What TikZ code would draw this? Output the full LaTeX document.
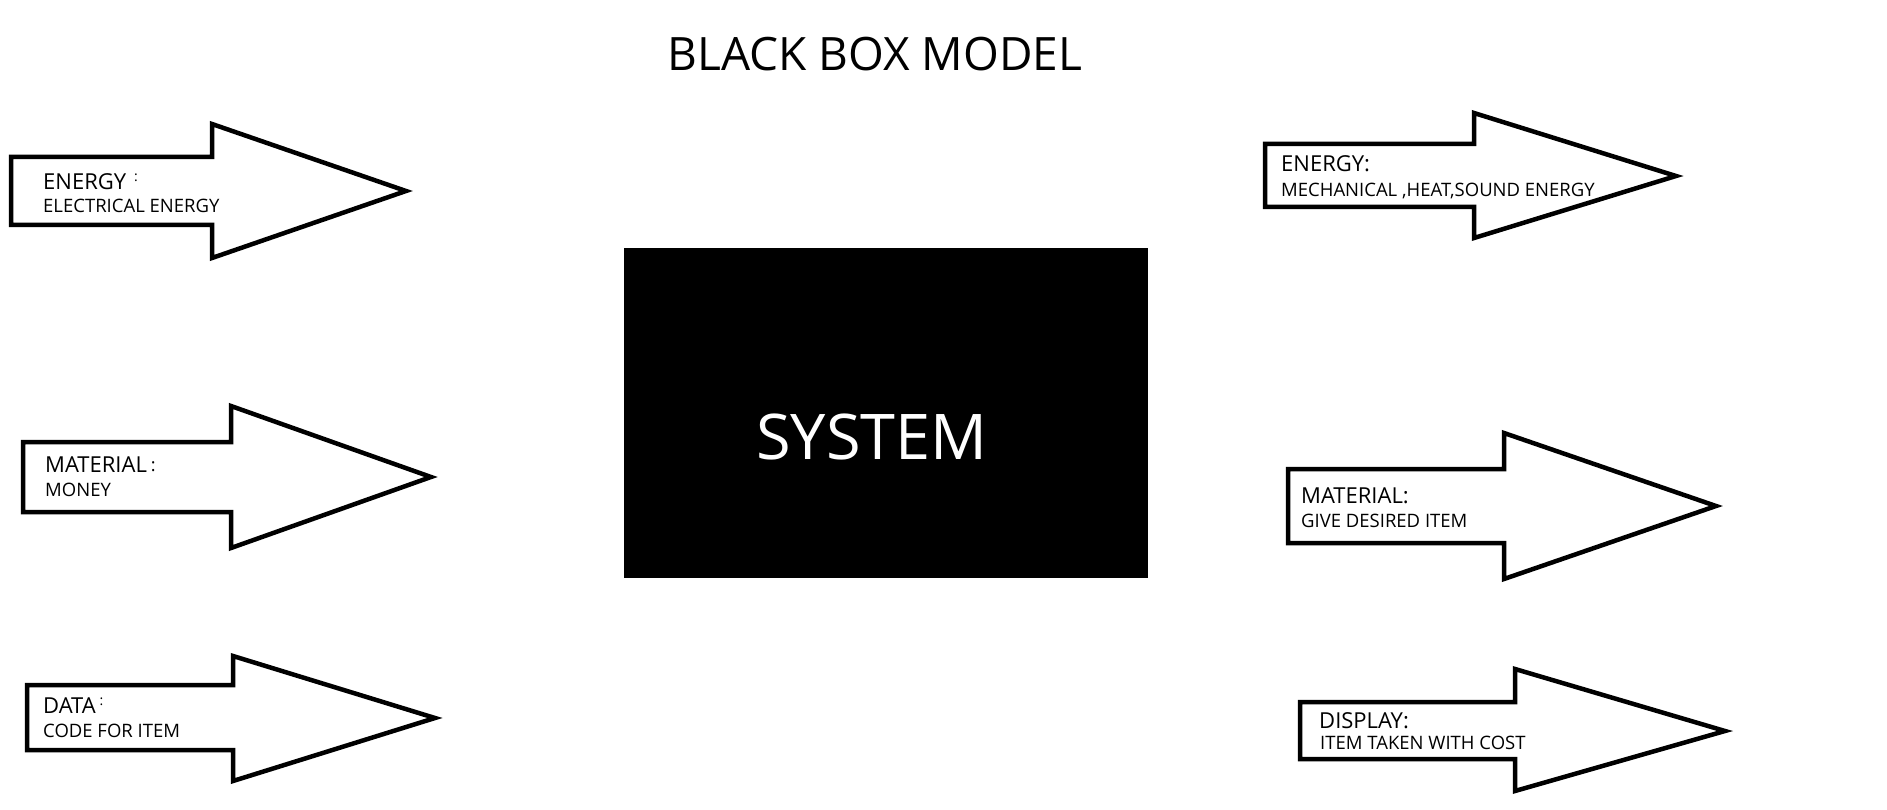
\documentclass[tikz,border=0pt]{standalone}
\usepackage{fontspec}
\setmainfont{Open Sans}
\begin{document}
\begin{tikzpicture}[x=1pt,y=-1pt,
  bigarrow/.style={draw=black,line width=4.5pt,line join=miter,fill=white},
  head/.style={anchor=base west,inner sep=0pt,font=\fontsize{22}{24}\selectfont},
  sub/.style={anchor=base west,inner sep=0pt,font=\fontsize{18.5}{20}\selectfont},
]
\path[use as bounding box,fill=white] (0,0) rectangle (1887,810);

% title
\node[anchor=base,inner sep=0pt,font=\fontsize{46}{50}\selectfont] (title) at (875,71) {BLACK BOX MODEL};

% black box
\node[fill=black,minimum width=524pt,minimum height=330pt,inner sep=0pt,anchor=north west] (box) at (624,248) {};
\node[anchor=base,inner sep=0pt,text=white,font=\fontsize{63}{66}\selectfont] (system) at (872,459) {SYSTEM};

% left arrows
\draw[bigarrow] (11,157) -- (212,157) -- (212,124) -- (406,191) -- (212,258) -- (212,225) -- (11,225) -- cycle;
\draw[bigarrow] (23,442) -- (231,442) -- (231,406) -- (431,477) -- (231,548) -- (231,512) -- (23,512) -- cycle;
\draw[bigarrow] (27,685) -- (233,685) -- (233,656) -- (435,718) -- (233,781) -- (233,750) -- (27,750) -- cycle;

% right arrows
\draw[bigarrow] (1265,144) -- (1474,144) -- (1474,113) -- (1676,176) -- (1474,238) -- (1474,207) -- (1265,207) -- cycle;
\draw[bigarrow] (1288,469) -- (1504,469) -- (1504,433) -- (1716,506) -- (1504,579) -- (1504,543) -- (1288,543) -- cycle;
\draw[bigarrow] (1300,702) -- (1515,702) -- (1515,669) -- (1725,731) -- (1515,791) -- (1515,759) -- (1300,759) -- cycle;

% left texts
\node[head] (l1h) at (43,190) {ENERGY\hspace{8pt}\raisebox{8pt}{\fontsize{14}{14}\selectfont :}};
\node[sub] (l1s) at (43,213) {ELECTRICAL ENERGY};
\node[head] (l2h) at (45,472) {MATERIAL\hspace{4pt}\raisebox{1pt}{\fontsize{18}{18}\selectfont :}};
\node[sub] (l2s) at (45,496) {MONEY};
\node[head] (l3h) at (43,713) {DATA\hspace{4pt}\raisebox{8pt}{\fontsize{14}{14}\selectfont :}};
\node[sub] (l3s) at (43,737) {CODE FOR ITEM};

% right texts
\node[head] (r1h) at (1281,172) {ENERGY:};
\node[sub] (r1s) at (1281,197) {MECHANICAL ,HEAT,SOUND ENERGY};
\node[head] (r2h) at (1301,503) {MATERIAL:};
\node[sub] (r2s) at (1301,527) {GIVE DESIRED ITEM};
\node[head] (r3h) at (1319,728) {DISPLAY:};
\node[sub] (r3s) at (1320,749) {ITEM TAKEN WITH COST};
\end{tikzpicture}
\end{document}
